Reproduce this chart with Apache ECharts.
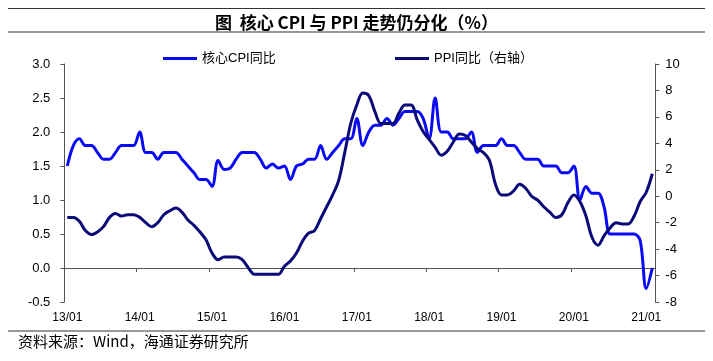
<!DOCTYPE html>
<html>
<head>
<meta charset="utf-8">
<script src="https://cdn.jsdelivr.net/npm/echarts@6/dist/echarts.min.js"></script>
<style>
html,body{margin:0;padding:0;background:#fff;}
#c{width:713px;height:361px;}
</style>
</head>
<body>
<div id="c"></div>
<script>
// Months: 2013/01 .. 2021/02
const years = ['13','14','15','16','17','18','19','20','21'];
const months = ['01','02','03','04','05','06','07','08','09','10','11','12'];
const categories = [];
years.forEach(y => months.forEach(m => { if (!(y === '21' && m > '02')) categories.push(y + '/' + m); }));

// 核心CPI同比 (left axis, %)
const coreCPI = [
  1.5, 1.8, 1.9, 1.8, 1.8, 1.7, 1.6, 1.6, 1.7, 1.8, 1.8, 1.8,
  2.0, 1.7, 1.7, 1.6, 1.7, 1.7, 1.7, 1.6, 1.5, 1.4, 1.3, 1.3,
  1.2, 1.58, 1.45, 1.47, 1.6, 1.7, 1.7, 1.7, 1.6, 1.47, 1.53, 1.47,
  1.5, 1.3, 1.5, 1.53, 1.6, 1.6, 1.8, 1.6, 1.7, 1.8, 1.9, 1.9,
  2.2, 1.8, 2.0, 2.1, 2.1, 2.2, 2.1, 2.2, 2.3, 2.3, 2.3, 2.2,
  1.9, 2.5, 2.0, 2.0, 1.9, 1.9, 1.9, 2.0, 1.7, 1.8, 1.8, 1.8,
  1.9, 1.8, 1.8, 1.7, 1.6, 1.6, 1.6, 1.5, 1.5, 1.5, 1.4, 1.4,
  1.5, 1.0, 1.2, 1.1, 1.1, 0.9, 0.5, 0.5, 0.5, 0.5, 0.5, 0.4,
  -0.3, 0.0
];

// PPI同比 (right axis, %)
const ppi = [
  -1.6, -1.6, -1.9, -2.6, -2.9, -2.7, -2.3, -1.6, -1.3, -1.5, -1.4, -1.4,
  -1.6, -2.0, -2.3, -2.0, -1.4, -1.1, -0.9, -1.2, -1.8, -2.2, -2.7, -3.3,
  -4.3, -4.8, -4.6, -4.6, -4.6, -4.8, -5.4, -5.9, -5.9, -5.9, -5.9, -5.9,
  -5.3, -4.9, -4.3, -3.4, -2.8, -2.6, -1.7, -0.8, 0.1, 1.2, 3.3, 5.5,
  6.9, 7.8, 7.6, 6.4, 5.5, 5.5, 5.5, 6.3, 6.9, 6.9, 5.8, 4.9,
  4.3, 3.7, 3.1, 3.4, 4.1, 4.7, 4.6, 4.1, 3.6, 3.3, 2.7, 0.9,
  0.1, 0.1, 0.4, 0.9, 0.6, 0.0, -0.3, -0.8, -1.2, -1.6, -1.4, -0.5,
  0.1, -0.4, -1.5, -3.1, -3.7, -3.0, -2.4, -2.0, -2.1, -2.1, -1.5, -0.4,
  0.3, 1.7
];

const titleText = '图  核心 CPI 与 PPI 走势仍分化（%）';
const sourceText = '资料来源：Wind，海通证券研究所';
const seriesNames = ['核心CPI同比', 'PPI同比（右轴）'];

const FONT = '"Liberation Sans", Arial, "Noto Sans CJK SC", sans-serif';
const chart = echarts.init(document.getElementById('c'), null, {renderer: 'canvas'});

chart.setOption({
  animation: false,
  backgroundColor: '#fff',
  textStyle: {fontFamily: FONT},
  title: {
    text: titleText,
    left: 'center',
    top: 9,
    textStyle: {fontSize: 17, fontWeight: 'bold', color: '#000', fontFamily: '"Noto Sans CJK SC", sans-serif'}
  },
  graphic: [
    {type: 'line', shape: {x1: 8, y1: 8.5, x2: 705, y2: 8.5}, style: {stroke: '#333', lineWidth: 1.2}},
    {type: 'line', shape: {x1: 8, y1: 32, x2: 705, y2: 32}, style: {stroke: '#333', lineWidth: 1.2}},
    {type: 'line', shape: {x1: 8, y1: 331, x2: 705, y2: 331}, style: {stroke: '#333', lineWidth: 1.2}},
    {type: 'text', left: 18, top: 334, style: {text: sourceText, font: '15px "Noto Sans CJK SC", sans-serif', fill: '#000'}}
  ],
  legend: [
    {data: [seriesNames[0]], left: 163, top: 52, padding: 0, icon: 'rect', itemWidth: 34, itemHeight: 3, itemGap: 5,
     textStyle: {fontSize: 13, color: '#000', fontFamily: FONT}},
    {data: [seriesNames[1]], left: 395, top: 52, padding: 0, icon: 'rect', itemWidth: 34, itemHeight: 3, itemGap: 5,
     textStyle: {fontSize: 13, color: '#000', fontFamily: FONT}}
  ],
  grid: {left: 64.3, right: 57.7, top: 64, bottom: 59, containLabel: false},
  xAxis: [
    {
      type: 'category', data: categories, boundaryGap: true,
      axisLine: {show: true, onZero: true, onZeroAxisIndex: 0, lineStyle: {color: '#555', width: 1}},
      axisTick: {show: true, interval: 11, length: 4, inside: false, lineStyle: {color: '#555'}},
      axisLabel: {show: false},
      splitLine: {show: false}
    },
    {
      type: 'category', data: categories, boundaryGap: true, position: 'bottom',
      axisLine: {show: false, onZero: false},
      axisTick: {show: false},
      axisLabel: {show: true, interval: 11, margin: 10, fontSize: 12, color: '#000', fontFamily: FONT},
      splitLine: {show: false}
    }
  ],
  yAxis: [
    {
      type: 'value', min: -0.5, max: 3.0, interval: 0.5, position: 'left',
      axisLine: {show: true, lineStyle: {color: '#555', width: 1}},
      axisTick: {show: true, length: 4, inside: false, lineStyle: {color: '#555'}},
      axisLabel: {formatter: v => v.toFixed(1), fontSize: 13, color: '#000', margin: 14, fontFamily: FONT},
      splitLine: {show: false}
    },
    {
      type: 'value', min: -8, max: 10, interval: 2, position: 'right',
      axisLine: {show: true, lineStyle: {color: '#555', width: 1}},
      axisTick: {show: true, length: 4, inside: false, lineStyle: {color: '#555'}},
      axisLabel: {fontSize: 13, color: '#000', margin: 10, fontFamily: FONT},
      splitLine: {show: false}
    }
  ],
  series: [
    {
      name: seriesNames[0], type: 'line', data: coreCPI, xAxisIndex: 0, yAxisIndex: 0,
      smooth: 0.35, showSymbol: false, symbol: 'none',
      lineStyle: {color: '#0A0AF5', width: 3}, itemStyle: {color: '#0A0AF5'}
    },
    {
      name: seriesNames[1], type: 'line', data: ppi, xAxisIndex: 0, yAxisIndex: 1,
      smooth: 0.35, showSymbol: false, symbol: 'none',
      lineStyle: {color: '#0A0A78', width: 3}, itemStyle: {color: '#0A0A78'}
    }
  ]
});
</script>
</body>
</html>
